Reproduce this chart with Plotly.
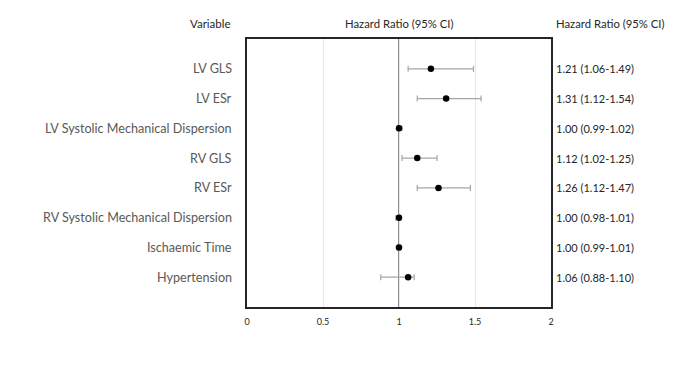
import plotly.graph_objects as go

variables = ["LV GLS", "LV ESr", "LV Systolic Mechanical Dispersion", "RV GLS", "RV ESr",
             "RV Systolic Mechanical Dispersion", "Ischaemic Time", "Hypertension"]
hr = [1.21, 1.31, 1.00, 1.12, 1.26, 1.00, 1.00, 1.06]
ci_low = [1.06, 1.12, 0.99, 1.02, 1.12, 0.98, 0.99, 0.88]
ci_high = [1.49, 1.54, 1.02, 1.25, 1.47, 1.01, 1.01, 1.10]
labels_right = ["1.21 (1.06-1.49)", "1.31 (1.12-1.54)", "1.00 (0.99-1.02)", "1.12 (1.02-1.25)",
                "1.26 (1.12-1.47)", "1.00 (0.98-1.01)", "1.00 (0.99-1.01)", "1.06 (0.88-1.10)"]
x_ticks = [0, 0.5, 1, 1.5, 2]
x_tick_text = ["0", "0.5", "1", "1.5", "2"]

rows = list(range(1, len(variables) + 1))
FONT = "Lato"

# figure geometry (page has an 8px body margin)
W, H = 669, 369
L, T = 239, 31
PW, PH = 304, 268
R, B = W - L - PW, H - T - PH


def xp(px):  # absolute page x -> paper
    return (px - 8 - L) / PW


def yp(py):  # absolute page y -> paper
    return 1 - (py - 8 - T) / PH


fig = go.Figure()
fig.add_trace(go.Scatter(
    x=hr, y=rows, mode="markers",
    marker=dict(color="black", size=6.5),
    error_x=dict(type="data", symmetric=False,
                 array=[h - v for v, h in zip(hr, ci_high)],
                 arrayminus=[v - l for v, l in zip(hr, ci_low)],
                 color="#a6a6a6", thickness=1.2, width=3),
    showlegend=False, hoverinfo="skip"))

fig.add_shape(type="line", x0=1, x1=1, y0=0, y1=9, xref="x", yref="y",
              line=dict(color="#404040", width=1.2), layer="below")

for r, v, t in zip(rows, variables, labels_right):
    fig.add_annotation(x=xp(234), xref="paper", y=r, yref="y", text=v, showarrow=False,
                       xanchor="right", yanchor="middle",
                       font=dict(family=FONT, size=12.6, color="#595959"))
    fig.add_annotation(x=xp(554), xref="paper", y=r, yref="y", text=t, showarrow=False,
                       xanchor="left", yanchor="middle",
                       font=dict(family=FONT, size=11, color="#262626"))

fig.add_annotation(x=xp(233), xref="paper", y=yp(24), yref="paper", text="Variable",
                   showarrow=False, xanchor="right", yanchor="middle",
                   font=dict(family=FONT, size=11.5, color="#262626"))
fig.add_annotation(x=0.5, xref="paper", y=yp(24), yref="paper", text="Hazard Ratio (95% CI)",
                   showarrow=False, xanchor="center", yanchor="middle",
                   font=dict(family=FONT, size=11.3, color="#262626"))
fig.add_annotation(x=xp(554), xref="paper", y=yp(24), yref="paper", text="Hazard Ratio (95% CI)",
                   showarrow=False, xanchor="left", yanchor="middle",
                   font=dict(family=FONT, size=11.3, color="#262626"))

fig.update_xaxes(range=[0, 2], tickvals=x_ticks, ticktext=x_tick_text, showgrid=True,
                 gridcolor="#e8e8e8", gridwidth=1, zeroline=False, showline=True, mirror=True,
                 linecolor="#262626", linewidth=1.5, ticks="", ticklabelstandoff=5,
                 tickfont=dict(family=FONT, size=9, color="#262626"))
fig.update_yaxes(range=[9, 0], showgrid=False, zeroline=False, showticklabels=False,
                 showline=True, mirror=True, linecolor="#262626", linewidth=1.5)
fig.update_layout(width=W, height=H, margin=dict(l=L, r=R, t=T, b=B),
                  plot_bgcolor="white", paper_bgcolor="white")
fig.write_html("out.html")
